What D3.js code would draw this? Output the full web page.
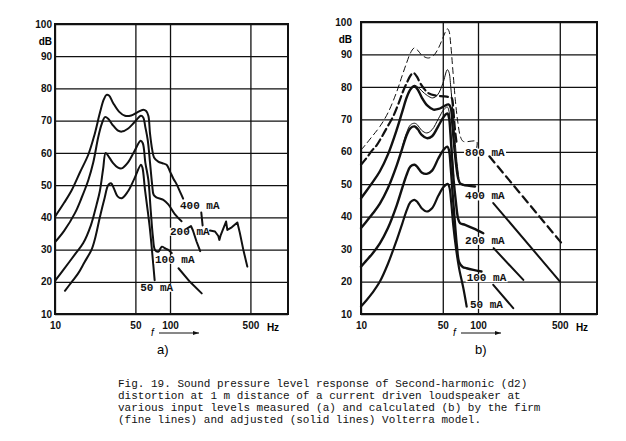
<!DOCTYPE html>
<html><head><meta charset="utf-8">
<script src="https://cdn.jsdelivr.net/npm/d3@7"></script>
<style>body{margin:0;background:#fff}svg{display:block}</style>
</head><body>
<svg id="chart" width="626" height="441"></svg>
<script>
// ---------- ticks ----------
const yTicks = [10,20,30,40,50,60,70,80,90,100];
const xTicks = [10,50,100,500];
const xTickLabels = ["10","50","100","500"];

// ---------- panel a (measured) : [frequency Hz, level dB] ----------
const a400 = [[10,40.2],[12,44.5],[14,48.5],[16.5,54],[19.5,59.5],[22,65.5],[24.6,72.5],[26.5,76.5],[28,78],[29.5,77.8],[32,75.5],[36,72.8],[40.6,71.5],[46,71.6],[52,72.6],[58.5,73.4],[62,73],[64.8,71.5],[67,66],[70,61],[72.6,58.6],[79,57.3],[86,56.8],[93.4,56.3],[100,54.2],[107,52],[114,50.3],[122,48],[130,45.8]];
const a400b = [[187,41.5],[192,37.5]];
const a400c = [[222.5,35.9],[246,35.6],[263,34.2],[268.5,33.0],[276,34.5],[307,38.7],[315,36.1],[344,36.9],[385,38.4],[405,35.1],[434,29.9],[470,24.7]];
const a200 = [[10,32.3],[12,35.8],[14.9,41.3],[17,46],[19.5,51.6],[21.5,57],[23.8,65],[25.5,69],[27.2,71.1],[29,70.6],[31.5,68.8],[35,67],[38,66.6],[43,67.5],[49,69.5],[55.9,71.5],[58.5,71],[61,68],[64,64],[67,57],[70,50],[72,47],[76,46.2],[87.5,45.4],[96.6,44],[110,41],[126,38.8]];
const a200b = [[141,36.6],[152,37.3],[158,36],[170,32.5],[183,29.5]];
const a100 = [[10,20.3],[12,24],[14.9,28.5],[17.6,32],[20.5,37.5],[23,44],[24.5,48],[26.2,55],[27.6,60],[29.5,58.7],[32,56.8],[35,55.5],[38,55.2],[43,57],[49,60.5],[55.5,63.8],[58,63],[61,57],[64.8,51.6],[68,42],[71,34],[74,29.9],[79,29.3],[84.8,30.9],[90.3,30.4],[96.6,29.9],[103.6,28.9]];
const a100b = [[118.5,24.2],[149,20],[188.7,16.4]];
const a50 = [[12.2,17.2],[14,20],[15.9,22.6],[18,26],[20.8,30],[22.5,34],[24.6,40.2],[27,46],[29,50],[30.7,50.6],[32.5,49],[35,46.5],[38,45.9],[43,48],[49,52],[55.9,56.3],[57.5,55.5],[60.6,48.5],[64,42],[67,36.1],[70,29],[73.5,20.5]];

// ---------- panel b (calculated) ----------
const b800fine = [[10,60.5],[11,62.3],[12.5,64.8],[14.5,67.8],[17,72],[20.2,78.5],[22.5,83.5],[24.6,87.5],[26.5,90.5],[28.5,92],[30.5,91.3],[33,89.8],[37.6,88.9],[42,89.8],[46,92],[50,95],[54.7,97.9],[56.5,97.2],[58.5,93],[61,85],[64,76],[67,69.5],[71,64.5],[74.9,63.2],[97.5,63.2],[97.5,61.3]];
const b800adj = [[10,56],[11,57.8],[12.5,60.5],[13.6,62],[15,64.5],[17,68],[18.9,71],[21,75],[22.8,78.5],[24.6,81.2],[26.5,83.5],[28,84.3],[30,83.2],[32,81.2],[34.5,79.5],[37.6,78.1],[44,77.3],[50.5,77.1],[56,76.9],[59.6,76.6],[61.5,73],[63.5,67],[66,62]];
const b800tail = [[125,58.6],[519,31.8]];
const b400fine = [[26.5,79.5],[28.5,80.5],[30.5,80],[33,78.8],[37,77.3],[41,76.6],[45,77.5],[50,81],[54.7,85.3],[56.5,84.5],[58.5,80],[61,72],[63.5,64],[66,57],[68.5,52]];
const b400adj = [[10,45.7],[11,47.7],[12.5,50.5],[14.5,54],[17,59.2],[20.2,66.8],[22.5,72.3],[24.6,76.8],[26.5,79.3],[28.5,80.2],[30.5,79.2],[33,76.8],[37,74.2],[41.6,73],[46,73.2],[51,74],[56,74.6],[58.5,73.5],[60.5,68],[62.5,62],[65,56],[67.5,52],[70.2,50.3],[75,49.8],[94.4,49.3]];
const b400tail = [[135,44.2],[502,20]];
const b200fine = [[22.5,61.5],[24.6,66],[26.5,68.3],[28.8,68.8],[30.5,68.2],[33,66.6],[36.5,65.8],[40.5,66.8],[45.9,70.2],[51,73],[54.7,73.8],[56.5,72.5],[58,68],[60,60],[62,52.5]];
const b200adj = [[10,36.5],[11,38.3],[12.5,40.8],[14.5,44],[17,48.8],[20.2,55.8],[22.5,61],[24.6,65.2],[26.5,67.3],[28.8,67.8],[30.5,67],[33,65.2],[36.5,64.2],[40.5,64.8],[45.9,68],[51,70.8],[54.7,71.8],[56.5,70.5],[58,66],[60,58],[62,51],[64.5,45],[67.5,39.5],[70.2,38],[77.6,37.5],[91.3,36.4],[111,34.9]];
const b200tail = [[136,30.3],[244,20.5]];
const b100adj = [[10,24.6],[11,26.3],[12.5,28.6],[14.5,31.8],[17,36.5],[20.2,43.5],[22.5,48.8],[24.6,53],[26.5,55.5],[28.8,56],[30.5,55.2],[33,53.6],[36.5,53.2],[40.5,54.2],[45.9,58],[51,60.7],[54.7,61.6],[56.5,60.5],[58.5,55],[61,46],[63.5,38],[66,31],[69,26],[74,24.5],[80,24.1],[91.3,23.6],[107,23.1]];
const b100tail = [[135,19],[200,11.8]];
const b50adj = [[10,12.3],[11,14],[12.5,16.5],[14.5,20],[17,25.5],[20.2,32.8],[22.5,37.8],[24.6,42],[26.5,44.5],[28.6,45.2],[30.5,44.4],[33,42.6],[36.5,41.6],[40.5,42.6],[45.9,46.5],[51,49.2],[55.1,50.1],[57,49],[59,44.5],[61.6,37],[65,30],[69,24],[74.9,18],[80,12.3]];

// ---------- labels : [text, frequency at left edge, dB at centre] ----------
const aLabels = [["400 mA",122,43.4],["200 mA",100,35.5],["100 mA",74,26.8],["50 mA",55,18.1]];
const bLabels = [["800 mA",77.5,59.7],["400 mA",77.5,46.2],["200 mA",77.5,32.5],["100 mA",80,21],["50 mA",85.3,12.8]];
const caption = [
 "Fig. 19. Sound pressure level response of Second-harmonic (d2)",
 "distortion at 1 m distance of a current driven loudspeaker at",
 "various input levels measured (a) and calculated (b) by the firm",
 "(fine lines) and adjusted (solid lines) Volterra model."];

const svg = d3.select("#chart");
const mono = "'Liberation Mono','DejaVu Sans Mono',monospace";
const sans = "'Liberation Sans',Arial,sans-serif";

function panel(cfg){
  const x = d3.scaleLog().domain([10, cfg.fmax]).range([cfg.left, cfg.right]);
  const y = d3.scaleLinear().domain([10,100]).range([314, cfg.top]);
  const g = svg.append("g");
  const ya = d3.axisLeft(y).tickValues(yTicks).tickSize(-(cfg.right-cfg.left)).tickPadding(cfg.pad)
    .tickFormat(d=>d3.format("d")(d));
  const yg = g.append("g").attr("transform",`translate(${cfg.left},0)`).call(ya);
  yg.select(".domain").remove();
  yg.selectAll("line").attr("stroke","#111").attr("stroke-width",1.3);
  yg.selectAll("text").attr("font-family",sans).attr("font-weight","bold").attr("font-size",10).attr("fill","#111");
  const xa = d3.axisBottom(x).tickValues(xTicks).tickSize(-(314-cfg.top)).tickPadding(8)
    .tickFormat((d,i)=>xTickLabels[i]);
  const xg = g.append("g").attr("transform",`translate(0,314)`).call(xa);
  xg.select(".domain").remove();
  xg.selectAll("line").attr("stroke","#111").attr("stroke-width",1.3);
  xg.selectAll("text").attr("font-family",sans).attr("font-weight","bold").attr("font-size",10).attr("fill","#111");
  g.append("rect").attr("x",cfg.left).attr("y",cfg.top).attr("width",cfg.right-cfg.left).attr("height",314-cfg.top)
    .attr("fill","none").attr("stroke","#111").attr("stroke-width",2);
  g.append("text").attr("x",cfg.left-cfg.pad).attr("y",y(94.3)).attr("text-anchor","end").attr("dominant-baseline","middle")
    .attr("font-family",sans).attr("font-weight","bold").attr("font-size",10).text("dB");
  g.append("text").attr("x",cfg.hzX).attr("y",314+8+9).attr("text-anchor","middle")
    .attr("font-family",sans).attr("font-weight","bold").attr("font-size",10).text("Hz");
  g.append("text").attr("x",cfg.fX).attr("y",336).attr("font-family",sans).attr("font-style","italic").attr("font-size",10).text("f");
  g.append("line").attr("x1",cfg.fX+8).attr("x2",cfg.fX+48).attr("y1",333).attr("y2",333).attr("stroke","#111").attr("stroke-width",1);
  g.append("path").attr("d",`M${cfg.fX+48},333 l-6,-2 l0,4 z`).attr("fill","#111");
  g.append("text").attr("x",cfg.subX).attr("y",354).attr("font-family",sans).attr("font-size",13).text(cfg.sub);
  return {x,y,g};
}

const A = panel({left:55,right:288,top:24,fmax:1061,pad:3,hzX:273,fX:151,subX:157,sub:"a)"});
const B = panel({left:361,right:597,top:22,fmax:1040,pad:9,hzX:582,fX:453,subX:475,sub:"b)"});

function curve(P, data, opt){
  const line = d3.line().x(d=>P.x(d[0])).y(d=>P.y(d[1]))
    .curve(opt.linear ? d3.curveLinear : d3.curveCatmullRom.alpha(0.5));
  P.g.append("path").datum(data).attr("d",line).attr("fill","none").attr("stroke","#111")
    .attr("stroke-width",opt.w||2).attr("stroke-dasharray",opt.dash||null)
    .attr("stroke-linejoin","round").attr("stroke-linecap","round");
}
function labels(P, list){
  list.forEach(([t,f,db])=>{
    const tx = P.g.append("text").attr("x",P.x(f)).attr("y",P.y(db)).attr("dominant-baseline","middle")
      .attr("font-family",mono).attr("font-weight","bold").attr("font-size",11).attr("fill","#111").text(t);
    const bb = tx.node().getBBox();
    P.g.insert("rect",()=>tx.node()).attr("x",bb.x-1).attr("y",bb.y+2).attr("width",bb.width+2).attr("height",bb.height-4).attr("fill","#fff");
  });
}

// main curves first
[a400,a200,a100,a50].forEach(d=>curve(A,d,{w:2}));
curve(B,b800fine,{w:1,dash:"6,4"});
curve(B,b800adj,{w:2.2,dash:"8,4"});
curve(B,b400fine,{w:1});
curve(B,b400adj,{w:2.4});
curve(B,b200fine,{w:1});
curve(B,b200adj,{w:2.4});
curve(B,b100adj,{w:2.4});
curve(B,b50adj,{w:2.2});

labels(A, aLabels);
labels(B, bLabels);

// continuations after the labels
[a400b,a200b,a100b].forEach(d=>curve(A,d,{w:2,linear:true}));
curve(A,a400c,{w:2,linear:true});
curve(B,b800tail,{w:2.2,dash:"8,5",linear:true});
curve(B,b400tail,{w:2,linear:true});
curve(B,b200tail,{w:2,linear:true});
curve(B,b100tail,{w:2,linear:true});

svg.append("g").selectAll("text").data(caption).join("text")
  .attr("x",118).attr("y",(d,i)=>387+i*12)
  .attr("font-family",mono).attr("font-size",11).attr("fill","#111").attr("xml:space","preserve").text(d=>d);
</script>
</body></html>
